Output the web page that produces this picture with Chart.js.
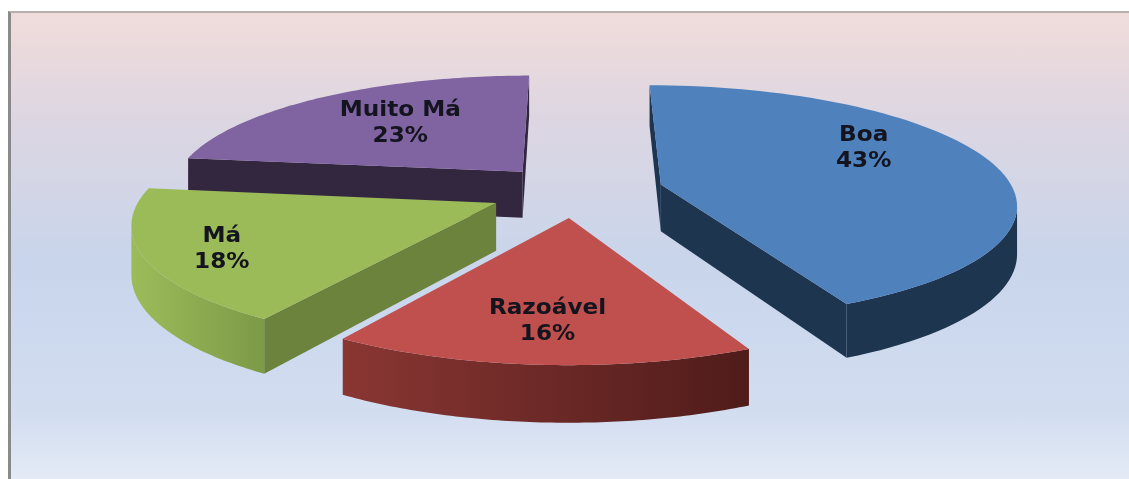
<!DOCTYPE html>
<html>
<head>
<meta charset="utf-8">
<script src="https://cdn.jsdelivr.net/npm/chart.js@4"></script>
<style>
  html, body { margin: 0; padding: 0; background: #fff; }
  #frame {
    position: absolute; left: 8px; top: 11px; width: 1121px; height: 468px;
    box-sizing: border-box;
    border-left: 3px solid #8a8a8a; border-top: 2px solid #b5b0ad;
    background: linear-gradient(#eedcdc 0, #efdbdb 12px, #dcd6e2 110px, #c8d5eb 250px, #d2ddf0 400px, #e4ebf6 468px);
  }
  canvas { position: absolute; left: 0; top: 0; }
</style>
</head>
<body>
<div id="frame"></div>
<canvas id="pie3d" width="1129" height="479"></canvas>
<script>
const categories = ['Boa', 'Razoável', 'Má', 'Muito Má'];
const shares = [43, 16, 18, 23];
const shareLabels = ['43%', '16%', '18%', '23%'];

const topColors = ['#4f81bd', '#c0504d', '#9bbb59', '#8064a2'];
const edgeColors = ['#1e3550', '#5a1f1d', '#6b833d', '#33263f'];
const rimColors = [['#1e3550', '#1e3550'], ['#8a3633', '#4f1c1a'], ['#9cbc5a', '#7c9a47'], ['#33263f', '#33263f']];
const explode = [54, 48, 51, 48];
// label centre relative to each slice tip, in pie radii
const labelSpots = [[0.62, 0.33], [-0.05, -0.74], [-0.71, -0.37], [-0.39, 0.47]];

// view of the tilted pie
const view = { cx: 574, cy: 191, rx: 353, ry: 116, depth: 47, persp: 0.15 };

function project(u, v, down) {
  const s = 1 / (1 + view.persp * v);
  return { x: view.cx + view.rx * u * s, y: view.cy - view.ry * v * s + (down ? view.depth * s : 0) };
}

function fillPoly(ctx, pts, color) {
  ctx.beginPath();
  pts.forEach((p, i) => i ? ctx.lineTo(p.x, p.y) : ctx.moveTo(p.x, p.y));
  ctx.closePath();
  ctx.fillStyle = color;
  ctx.fill();
}

function wallOf(run) {
  const top = run.map(p => project(p[0], p[1]));
  const bottom = run.map(p => project(p[0], p[1], true)).reverse();
  return top.concat(bottom);
}

function drawSlice(ctx, arc, i) {
  const mid = (arc.startAngle + arc.endAngle) / 2;
  const shift = arc.options.offset / arc.outerRadius;
  const tip = [Math.cos(mid) * shift, -Math.sin(mid) * shift];
  const rim = [];
  const steps = 80;
  for (let k = 0; k <= steps; k++) {
    const a = arc.startAngle + (arc.endAngle - arc.startAngle) * k / steps;
    rim.push([tip[0] + Math.cos(a), tip[1] - Math.sin(a)]);
  }
  const sx = p => project(p[0], p[1]).x;

  // straight cut faces, only the ones turned towards the viewer
  if (sx(rim[0]) < sx(tip)) fillPoly(ctx, wallOf([tip, rim[0]]), edgeColors[i]);
  if (sx(tip) < sx(rim[steps])) fillPoly(ctx, wallOf([rim[steps], tip]), edgeColors[i]);

  // curved wall, one polygon per visible run so the gradient has no seams
  const xs = rim.map(sx);
  const grad = ctx.createLinearGradient(Math.min(...xs), 0, Math.max(...xs), 0);
  grad.addColorStop(0, rimColors[i][0]);
  grad.addColorStop(1, rimColors[i][1]);
  let run = [];
  for (let k = 0; k < steps; k++) {
    if (xs[k + 1] < xs[k]) {
      if (!run.length) run.push(rim[k]);
      run.push(rim[k + 1]);
    } else if (run.length) {
      fillPoly(ctx, wallOf(run), grad);
      run = [];
    }
  }
  if (run.length) fillPoly(ctx, wallOf(run), grad);

  fillPoly(ctx, [tip].concat(rim).map(p => project(p[0], p[1])), topColors[i]);

  return project(tip[0] + labelSpots[i][0], tip[1] + labelSpots[i][1]);
}

function stretchedText(ctx, text, x, y) {
  ctx.save();
  ctx.translate(x, y);
  ctx.scale(1.13, 1);
  ctx.fillText(text, 0, 0);
  ctx.restore();
}

const tiltedPie = {
  id: 'tiltedPie',
  beforeDatasetDraw(chart, args) {
    const ctx = chart.ctx;
    const arcs = chart.getDatasetMeta(args.index).data;
    const order = arcs.map((a, i) => i).sort((a, b) => {
      const ma = (arcs[a].startAngle + arcs[a].endAngle) / 2;
      const mb = (arcs[b].startAngle + arcs[b].endAngle) / 2;
      return Math.sin(ma) - Math.sin(mb);
    });
    ctx.save();
    const spots = [];
    order.forEach(i => { spots[i] = drawSlice(ctx, arcs[i], i); });
    ctx.font = 'bold 20.5px "DejaVu Sans"';
    ctx.fillStyle = '#14141e';
    ctx.textAlign = 'center';
    ctx.textBaseline = 'middle';
    spots.forEach((p, i) => {
      stretchedText(ctx, categories[i], p.x, p.y - 13);
      stretchedText(ctx, shareLabels[i], p.x, p.y + 13);
    });
    ctx.restore();
    return false;
  }
};

new Chart(document.getElementById('pie3d').getContext('2d'), {
  type: 'pie',
  data: {
    labels: categories,
    datasets: [{ data: shares, backgroundColor: topColors, borderWidth: 0, offset: explode }]
  },
  options: {
    responsive: false,
    animation: false,
    events: [],
    plugins: { legend: { display: false }, tooltip: { enabled: false } }
  },
  plugins: [tiltedPie]
});
</script>
</body>
</html>
